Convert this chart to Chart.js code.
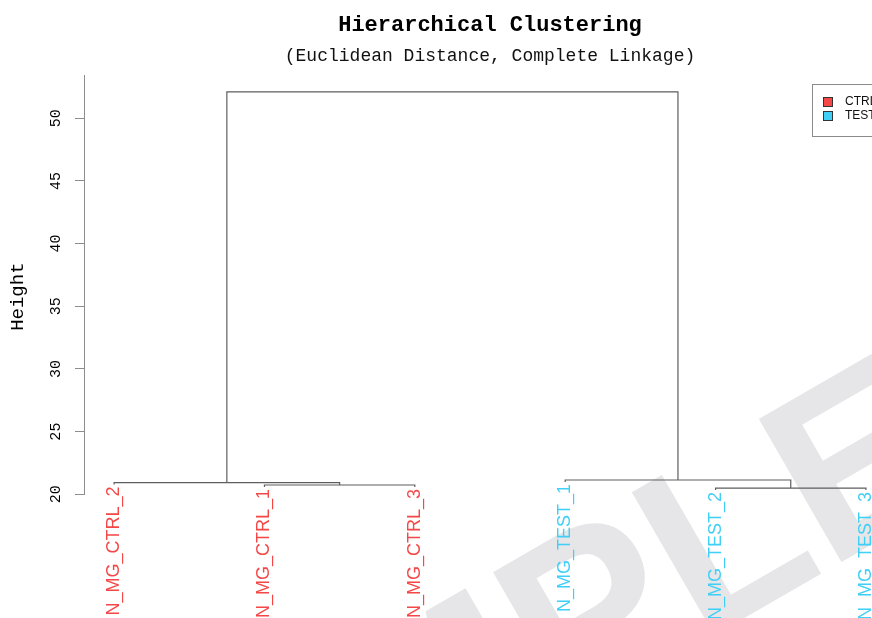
<!DOCTYPE html>
<html>
<head>
<meta charset="utf-8">
<script src="https://cdn.jsdelivr.net/npm/chart.js@4.4.1/dist/chart.umd.min.js"></script>
<style>
  html, body { margin: 0; padding: 0; background: #fff; overflow: hidden; }
  #wrap { width: 920px; height: 700px; }
</style>
</head>
<body>
<div id="wrap"><canvas id="dendro" width="920" height="700"></canvas></div>
<script>
// leaves in plot order
const leafLabels = ["N_MG_CTRL_2", "N_MG_CTRL_1", "N_MG_CTRL_3", "N_MG_TEST_1", "N_MG_TEST_2", "N_MG_TEST_3"]
const leafGroups = ["CTRL", "CTRL", "CTRL", "TEST", "TEST", "TEST"]
const groupNames = ["CTRL", "TEST"]
const groupColors = ["#f44848", "#40cff6"]

// merges, hclust style: negative = leaf (1-based, plot order), positive = earlier merge
const mergeLeft = [-2, -5, -1, -4, 3]
const mergeRight = [-3, -6, 1, 2, 4]
const mergeHeight = [20.74, 20.50, 20.93, 21.14, 52.1]
const leafHang = 0.15

const yTicksStep = 5
const yMin = 20
const yMax = 53.45
const yTitle = "Height"

// work out node x positions and segment paths
const mergeX = []
const leafEnd = []
const segments = []
const childPos = (id, parentH) => {
    if (id < 0) {
        leafEnd[-id - 1] = parentH - leafHang
        return {x: -id, y: parentH - leafHang}
    }
    return {x: mergeX[id - 1], y: mergeHeight[id - 1]}
}
for (let i = 0; i < mergeHeight.length; i++) {
    const h = mergeHeight[i]
    const l = childPos(mergeLeft[i], h)
    const r = childPos(mergeRight[i], h)
    mergeX.push((l.x + r.x) / 2)
    segments.push([{x: l.x, y: l.y}, {x: l.x, y: h}, {x: r.x, y: h}, {x: r.x, y: r.y}])
}

const colorOf = (g) => groupColors[groupNames.indexOf(g)]
const mono = "'Liberation Mono', 'DejaVu Sans Mono', monospace"

const watermark = {
    id: "watermark",
    beforeDraw(chart) {
        const ctx = chart.ctx
        ctx.save()
        ctx.translate(100, 990)
        ctx.rotate(-Math.PI / 6)
        ctx.fillStyle = "#e6e6e8"
        ctx.font = "bold 240px 'Liberation Sans', Arial, sans-serif"
        ctx.textAlign = "left"
        ctx.textBaseline = "alphabetic"
        ctx.fillText("SAMPLE", 0, 0)
        ctx.restore()
    }
}

const leafText = {
    id: "leafText",
    afterDatasetsDraw(chart) {
        const ctx = chart.ctx
        const xs = chart.scales.x, ys = chart.scales.y
        ctx.save()
        ctx.font = "18px 'Liberation Sans', Arial, sans-serif"
        ctx.textAlign = "right"
        ctx.textBaseline = "middle"
        leafLabels.forEach((lab, i) => {
            const px = xs.getPixelForValue(i + 1)
            const py = ys.getPixelForValue(leafEnd[i]) + 2
            ctx.save()
            ctx.translate(px, py)
            ctx.rotate(-Math.PI / 2)
            ctx.fillStyle = colorOf(leafGroups[i])
            ctx.fillText(lab, 0, 0)
            ctx.restore()
        })
        // y axis title, centred on the plot region incl. the label hang
        ctx.font = "19px " + mono
        ctx.textAlign = "center"
        ctx.fillStyle = "#000"
        ctx.translate(18, ys.top + (ys.bottom - ys.top) / 2 + 12)
        ctx.rotate(-Math.PI / 2)
        ctx.fillText(yTitle, 0, 0)
        ctx.restore()
    }
}

const boxLegend = {
    id: "boxLegend",
    afterDraw(chart) {
        const ctx = chart.ctx
        const left = 812, top = 84
        ctx.save()
        ctx.fillStyle = "#fff"
        ctx.strokeStyle = "#8a8a8a"
        ctx.lineWidth = 1
        ctx.fillRect(left, top, 84, 52)
        ctx.strokeRect(left + 0.5, top + 0.5, 84, 52)
        ctx.font = "12px 'Liberation Sans', Arial, sans-serif"
        ctx.textAlign = "left"
        ctx.textBaseline = "middle"
        groupNames.forEach((g, i) => {
            const cy = top + 18 + i * 14
            ctx.fillStyle = groupColors[i]
            ctx.fillRect(left + 11, cy - 5, 10, 10)
            ctx.strokeStyle = "#333"
            ctx.strokeRect(left + 11.5, cy - 4.5, 9, 9)
            ctx.fillStyle = "#111"
            ctx.fillText(g, left + 33, cy)
        })
        ctx.restore()
    }
}

new Chart(document.querySelector("#dendro"), {
    type: "scatter",
    plugins: [watermark, leafText, boxLegend],
    data: {
        datasets: segments.map((s) => ({
            data: s,
            showLine: true,
            borderColor: "#5e5e5e",
            borderWidth: 1.2,
            pointRadius: 0,
            pointHoverRadius: 0,
            tension: 0,
            fill: false,
        })),
    },
    options: {
        responsive: false,
        animation: false,
        devicePixelRatio: 1,
        layout: {padding: {left: 0, right: 24, top: 0, bottom: 205.7}},
        plugins: {
            legend: {display: false},
            tooltip: {enabled: false},
            title: {
                display: true,
                text: "Hierarchical Clustering",
                color: "#000",
                fullSize: false,
                font: {family: mono, size: 22, weight: "bold"},
                padding: {top: 12, bottom: 0},
            },
            subtitle: {
                display: true,
                text: "(Euclidean Distance, Complete Linkage)",
                color: "#111",
                fullSize: false,
                font: {family: mono, size: 18},
                padding: {top: 7, bottom: 8},
            },
        },
        scales: {
            x: {
                type: "linear",
                display: false,
                min: 0.8,
                max: leafLabels.length + 0.2,
            },
            y: {
                type: "linear",
                position: "left",
                min: yMin,
                max: yMax,
                afterFit: (scale) => { scale.width = 84 },
                ticks: {
                    stepSize: yTicksStep,
                    includeBounds: false,
                    minRotation: 90,
                    maxRotation: 90,
                    crossAlign: "center",
                    padding: 10,
                    color: "#000",
                    font: {family: mono, size: 15},
                },
                grid: {
                    drawOnChartArea: false,
                    drawTicks: true,
                    tickLength: 9,
                    color: "#8c8c8c",
                },
                border: {display: true, color: "#8c8c8c", width: 1},
                title: {display: false},
            },
        },
    },
})
</script>
</body>
</html>
